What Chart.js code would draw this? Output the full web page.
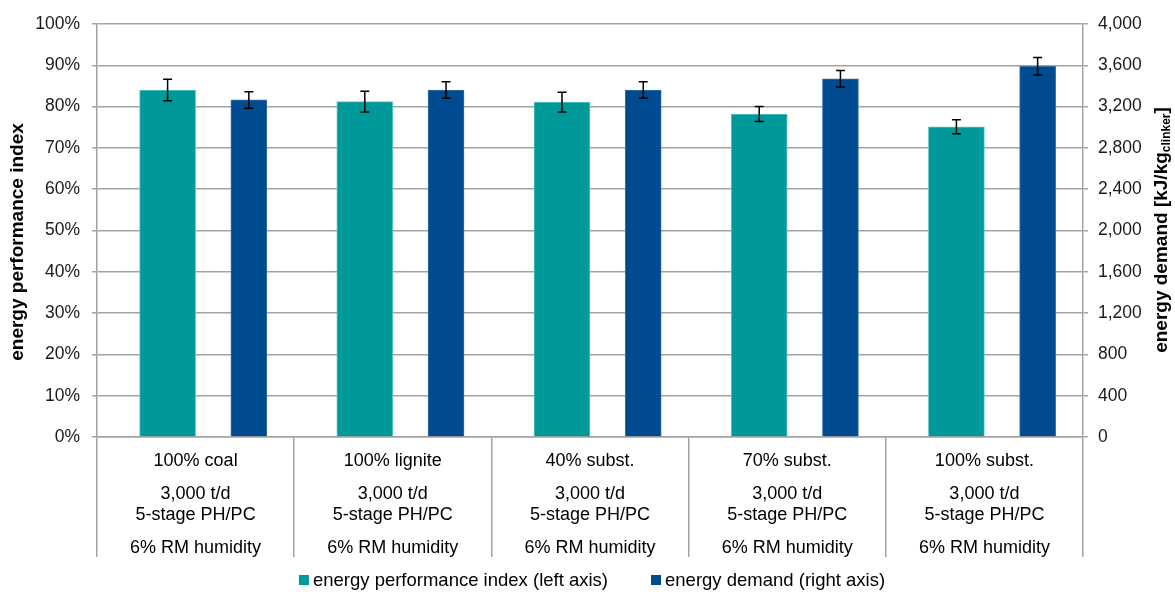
<!DOCTYPE html>
<html>
<head>
<meta charset="utf-8">
<script src="https://cdn.jsdelivr.net/npm/chart.js@4.4.1/dist/chart.umd.min.js"></script>
<style>
  html, body { margin: 0; padding: 0; background: #fff; }
  #wrap { width: 1175px; height: 592px; }
</style>
</head>
<body>
<div id="wrap"><canvas id="chart" width="1175" height="592"></canvas></div>
<script>
// scenario rows shown under each bar pair
const fuelMix = ['100% coal', '100% lignite', '40% subst.', '70% subst.', '100% subst.'];
const capacity = ['3,000 t/d', '3,000 t/d', '3,000 t/d', '3,000 t/d', '3,000 t/d'];
const kilnType = ['5-stage PH/PC', '5-stage PH/PC', '5-stage PH/PC', '5-stage PH/PC', '5-stage PH/PC'];
const rmHumidity = ['6% RM humidity', '6% RM humidity', '6% RM humidity', '6% RM humidity', '6% RM humidity'];

// energy performance index [%] and its spread
const performanceIndex = [84.0, 81.2, 81.1, 78.2, 75.1];
const performanceError = [2.6, 2.5, 2.4, 1.8, 1.7];

// specific energy demand [kJ/kg clinker] and its spread
const energyDemand = [3265, 3360, 3360, 3470, 3590];
const demandError = [80, 80, 80, 80, 85];

const TEAL = '#009999';
const BLUE = '#004a8f';
const GRID = '#a3a3a3';
const FONT = '"Liberation Sans", Arial, sans-serif';

Chart.defaults.font.family = FONT;
Chart.defaults.font.size = 18;
Chart.defaults.color = '#1a1a1a';

// move each bar sideways inside its category (dataset.shift = fraction of category width)
const barShift = {
  id: 'barShift',
  afterDatasetsUpdate(chart) {
    const x = chart.scales.x;
    const step = x.width / chart.data.labels.length;
    chart.data.datasets.forEach((ds, i) => {
      chart.getDatasetMeta(i).data.forEach(bar => { bar.x += ds.shift * step; });
    });
  }
};

const errorBars = {
  id: 'errorBars',
  afterDatasetsDraw(chart) {
    const ctx = chart.ctx;
    ctx.save();
    ctx.strokeStyle = '#000';
    ctx.lineWidth = 1.5;
    chart.data.datasets.forEach((ds, i) => {
      const yScale = chart.scales[ds.yAxisID];
      chart.getDatasetMeta(i).data.forEach((bar, j) => {
        const v = ds.data[j], e = ds.errors[j];
        const top = yScale.getPixelForValue(v + e);
        const bot = yScale.getPixelForValue(v - e);
        ctx.beginPath();
        ctx.moveTo(bar.x, top); ctx.lineTo(bar.x, bot);
        ctx.moveTo(bar.x - 4.5, top); ctx.lineTo(bar.x + 4.5, top);
        ctx.moveTo(bar.x - 4.5, bot); ctx.lineTo(bar.x + 4.5, bot);
        ctx.stroke();
      });
    });
    ctx.restore();
  }
};

// category table, axis titles and legend
const decorations = {
  id: 'decorations',
  afterDraw(chart) {
    const ctx = chart.ctx;
    const x = chart.scales.x;
    ctx.save();
    ctx.fillStyle = '#000';
    ctx.font = '18px ' + FONT;
    ctx.textAlign = 'center';
    ctx.textBaseline = 'alphabetic';
    fuelMix.forEach((f, i) => {
      const cx = x.getPixelForValue(i);
      ctx.fillText(f, cx, 466);
      ctx.fillText(capacity[i], cx, 499);
      ctx.fillText(kilnType[i], cx, 520);
      ctx.fillText(rmHumidity[i], cx, 553);
    });

    // left axis title
    ctx.font = 'bold 19px ' + FONT;
    ctx.textBaseline = 'middle';
    ctx.save();
    ctx.translate(18, 242);
    ctx.rotate(-Math.PI / 2);
    ctx.fillText('energy performance index', 0, 0);
    ctx.restore();

    // right axis title with subscript
    const main = 'energy demand [kJ/kg', sub = 'clinker', close = ']';
    const bold = 'bold 19px ' + FONT, subFont = 'bold 12px ' + FONT;
    ctx.font = bold;
    const w1 = ctx.measureText(main).width, w3 = ctx.measureText(close).width;
    ctx.font = subFont;
    const w2 = ctx.measureText(sub).width;
    const total = w1 + w2 + w3;
    ctx.save();
    ctx.translate(1162, 230);
    ctx.rotate(-Math.PI / 2);
    ctx.textAlign = 'left';
    let pos = -total / 2;
    ctx.font = bold; ctx.fillText(main, pos, 0); pos += w1;
    ctx.font = subFont; ctx.fillText(sub, pos, 5); pos += w2;
    ctx.font = bold; ctx.fillText(close, pos, 0);
    ctx.restore();

    // legend
    ctx.font = '18.5px ' + FONT;
    ctx.textAlign = 'left';
    ctx.textBaseline = 'middle';
    const items = chart.data.datasets.map(ds => ({ text: ds.label, color: ds.backgroundColor, w: ctx.measureText(ds.label).width }));
    const box = 10, gap = 4, between = 43;
    const full = items.reduce((s, it) => s + box + gap + it.w, 0) + between * (items.length - 1);
    let lx = 592 - full / 2;
    items.forEach(it => {
      ctx.fillStyle = it.color;
      ctx.fillRect(lx, 575, box, box);
      ctx.fillStyle = '#000';
      ctx.fillText(it.text, lx + box + gap, 581);
      lx += box + gap + it.w + between;
    });
    ctx.restore();
  }
};

new Chart(document.getElementById('chart'), {
  type: 'bar',
  data: {
    labels: fuelMix,
    datasets: [
      {
        label: 'energy performance index (left axis)',
        data: performanceIndex,
        errors: performanceError,
        yAxisID: 'y',
        backgroundColor: TEAL,
        borderColor: '#5cc4c4',
        borderWidth: 1,
        barThickness: 56,
        grouped: false,
        shift: -0.142
      },
      {
        label: 'energy demand (right axis)',
        data: energyDemand,
        errors: demandError,
        yAxisID: 'y2',
        backgroundColor: BLUE,
        borderColor: '#3b70a6',
        borderWidth: 1,
        barThickness: 36,
        grouped: false,
        shift: 0.27
      }
    ]
  },
  options: {
    responsive: false,
    animation: false,
    layout: { padding: { top: 24, left: 0, right: 0, bottom: 0 } },
    plugins: { legend: { display: false }, tooltip: { enabled: false } },
    scales: {
      x: {
        offset: true,
        ticks: { display: false },
        grid: { offset: true, drawOnChartArea: false, drawTicks: true, tickLength: 120, color: GRID, lineWidth: 1.5 },
        border: { color: GRID, width: 1.5 },
        afterFit: s => { s.height = 155; }
      },
      y: {
        position: 'left',
        min: 0,
        max: 100,
        ticks: { stepSize: 10, padding: 12, font: { size: 17.5 }, callback: v => v + '%' },
        grid: { color: GRID, lineWidth: 1.5, tickLength: 5 },
        border: { color: GRID, width: 1.5 },
        afterFit: s => { s.width = 97; }
      },
      y2: {
        position: 'right',
        min: 0,
        max: 4000,
        ticks: { stepSize: 400, padding: 10, font: { size: 17.5 }, callback: v => v.toLocaleString('en-US') },
        grid: { drawOnChartArea: false, color: GRID, lineWidth: 1.5, tickLength: 5 },
        border: { color: GRID, width: 1.5 },
        afterFit: s => { s.width = 92; }
      }
    }
  },
  plugins: [barShift, errorBars, decorations]
});
</script>
</body>
</html>
